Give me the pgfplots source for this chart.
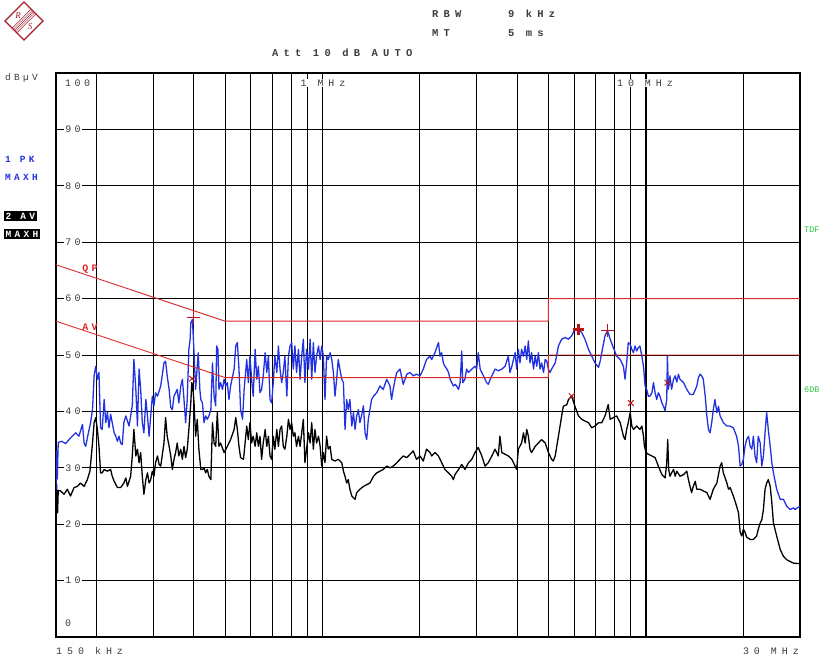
\documentclass[border=0pt]{standalone}
\usepackage{fontspec}
\setmainfont{Liberation Mono}
\newfontfamily\rs[LetterSpace=50]{Liberation Mono}
\newfontfamily\rt[LetterSpace=35]{Liberation Mono}
\usepackage{pgfplots}
\usepackage{pgfplotstable}
\pgfplotsset{compat=1.18}
\definecolor{pkblue}{RGB}{35,50,225}
\definecolor{limred}{RGB}{220,40,40}
\definecolor{mkred}{RGB}{185,20,20}
\definecolor{txtgray}{RGB}{60,60,60}
\definecolor{rsgreen}{RGB}{40,200,60}
\definecolor{logored}{RGB}{170,30,45}

% x = log10(frequency / MHz), y = level in dBuV
\pgfplotstableread[row sep=\\]{
lf dB\\
-0.824 26\\ -0.822 33\\ -0.820 28\\ -0.817 34.5\\ -0.807 34.7\\ -0.794 34.3\\ -0.779 35.3\\ -0.763 36.2\\
-0.753 35.6\\ -0.742 37.7\\ -0.737 34.4\\ -0.732 33.8\\ -0.727 35.3\\ -0.717 38\\ -0.711 40.3\\ -0.706 46.3\\
-0.701 48\\ -0.696 45.7\\ -0.691 46.9\\ -0.686 37.1\\ -0.681 36.8\\ -0.675 42.1\\ -0.670 38\\ -0.665 39.8\\
-0.660 37.1\\ -0.655 39.5\\ -0.650 38\\ -0.644 36.2\\ -0.639 35.6\\ -0.634 34.7\\ -0.629 35.6\\ -0.624 34.4\\
-0.619 34.1\\ -0.614 38\\ -0.608 39.2\\ -0.603 38.3\\ -0.598 37.4\\ -0.593 39.2\\ -0.588 41\\ -0.583 49.2\\
-0.577 43.9\\ -0.572 37.4\\ -0.567 47.5\\ -0.562 43.9\\ -0.557 38\\ -0.552 36.2\\ -0.546 42.1\\ -0.541 39.2\\
-0.536 35.6\\ -0.531 39.2\\ -0.526 42.7\\ -0.521 41\\ -0.516 43.3\\ -0.510 42.7\\ -0.500 44.5\\ -0.490 48.6\\
-0.485 48.9\\ -0.480 46.3\\ -0.474 43.9\\ -0.469 40.7\\ -0.464 40.3\\ -0.459 42.7\\ -0.454 43.3\\ -0.449 43.9\\
-0.444 41.5\\ -0.438 44.5\\ -0.433 45.7\\ -0.428 42.1\\ -0.423 38\\ -0.418 42.1\\ -0.413 51\\ -0.409 52.8\\
-0.407 55.7\\ -0.402 56.3\\ -0.399 52.8\\ -0.397 50.4\\ -0.392 43.9\\ -0.387 48\\ -0.384 50.4\\ -0.379 43.9\\
-0.376 42.1\\ -0.371 41.5\\ -0.366 38\\ -0.361 39.2\\ -0.356 38.6\\ -0.351 39.2\\ -0.345 40.3\\ -0.340 48.6\\
-0.335 42.7\\ -0.330 41\\ -0.327 51.6\\ -0.323 51\\ -0.320 43.9\\ -0.315 45.1\\ -0.309 43.9\\ -0.304 45.7\\
-0.299 44.5\\ -0.294 45.1\\ -0.289 42.1\\ -0.284 44.5\\ -0.273 47.5\\ -0.268 51.6\\ -0.263 52.2\\ -0.258 47.5\\
-0.253 40.3\\ -0.247 38.6\\ -0.242 43.9\\ -0.234 49.2\\ -0.229 45.1\\ -0.224 49.8\\ -0.219 45.7\\ -0.214 42.7\\
-0.208 51\\ -0.203 45.7\\ -0.198 48\\ -0.193 43.3\\ -0.188 43.9\\ -0.183 46.3\\ -0.177 50.4\\ -0.172 46.9\\
-0.167 49.8\\ -0.162 42.1\\ -0.157 41.5\\ -0.152 45.1\\ -0.147 49.8\\ -0.141 46.9\\ -0.136 51.6\\ -0.131 47.5\\
-0.126 45.1\\ -0.121 46.9\\ -0.116 49.8\\ -0.110 42.7\\ -0.105 49.8\\ -0.100 51.6\\ -0.095 52.2\\ -0.090 47.5\\
-0.085 51.6\\ -0.080 46.9\\ -0.074 51\\ -0.069 45.7\\ -0.064 49.8\\ -0.059 52.8\\ -0.054 45.1\\ -0.049 51\\
-0.043 47.5\\ -0.038 52.8\\ -0.033 45.7\\ -0.028 52.2\\ -0.023 46.9\\ -0.018 49.8\\ -0.012 51.6\\ -0.007 49.2\\
-0.002 51.6\\ 0.003 49.8\\ 0.008 42.1\\ 0.013 49.8\\ 0.018 49.2\\ 0.024 50.4\\ 0.029 49.2\\ 0.034 46.9\\
0.039 42.7\\ 0.044 45.7\\ 0.049 49.2\\ 0.054 47.5\\ 0.060 45.7\\ 0.065 45.1\\ 0.070 36.8\\ 0.075 42.1\\
0.080 40.3\\ 0.085 42.1\\ 0.091 37.4\\ 0.096 39.8\\ 0.101 36.8\\ 0.106 39.2\\ 0.111 40.3\\ 0.116 38\\
0.121 39.2\\ 0.127 41\\ 0.132 36.2\\ 0.137 35\\ 0.142 38.6\\ 0.147 40.3\\ 0.152 42.1\\ 0.158 42.7\\
0.168 43.3\\ 0.178 44.5\\ 0.188 43.9\\ 0.199 45.7\\ 0.209 44.5\\ 0.214 42.1\\ 0.219 43.9\\ 0.225 45.7\\
0.230 46.9\\ 0.240 47.5\\ 0.250 44.8\\ 0.261 46.6\\ 0.271 46.9\\ 0.281 46.3\\ 0.291 46.6\\ 0.302 46.3\\
0.312 47.5\\ 0.322 49.2\\ 0.333 49.8\\ 0.338 49.2\\ 0.348 50.4\\ 0.359 52.2\\ 0.364 49.8\\ 0.369 50.4\\
0.374 48.6\\ 0.379 48\\ 0.385 47.5\\ 0.390 46.9\\ 0.395 45.7\\ 0.400 45.1\\ 0.405 44.5\\ 0.410 44.8\\
0.415 44.5\\ 0.421 43.9\\ 0.426 45.1\\ 0.431 50.7\\ 0.434 45.1\\ 0.441 45.7\\ 0.446 47.5\\ 0.452 46.9\\
0.462 47.5\\ 0.472 48\\ 0.477 47.5\\ 0.482 50.4\\ 0.488 47.5\\ 0.493 46.9\\ 0.503 45.7\\ 0.508 45.1\\
0.513 44.8\\ 0.519 45.7\\ 0.524 46.3\\ 0.534 47.5\\ 0.544 47.2\\ 0.555 47.5\\ 0.565 48\\ 0.575 49.8\\
0.580 46.9\\ 0.586 48\\ 0.596 50.4\\ 0.601 47.5\\ 0.606 51\\ 0.611 48.6\\ 0.616 51\\ 0.622 49.8\\
0.627 51.6\\ 0.632 49.2\\ 0.637 52.5\\ 0.642 48.6\\ 0.647 50.4\\ 0.653 47.5\\ 0.658 49.8\\ 0.663 48\\
0.668 50.4\\ 0.673 47.5\\ 0.678 48.6\\ 0.684 46.9\\ 0.689 49.2\\ 0.694 48.9\\ 0.699 47.5\\ 0.704 46.9\\
0.709 47.5\\ 0.720 48.6\\ 0.730 51.6\\ 0.740 52.8\\ 0.751 53.1\\ 0.761 52.8\\ 0.771 53.4\\ 0.781 54.6\\
0.792 54.6\\ 0.802 54\\ 0.812 52.8\\ 0.823 51\\ 0.833 49.8\\ 0.843 48.6\\ 0.854 47.8\\ 0.859 48.9\\
0.864 50.4\\ 0.874 53.4\\ 0.882 54.3\\ 0.890 52.8\\ 0.910 49.8\\ 0.921 49.2\\ 0.931 48\\ 0.936 45.7\\
0.941 48.6\\ 0.946 52.2\\ 0.952 51.9\\ 0.957 51\\ 0.962 50.4\\ 0.967 51.6\\ 0.972 50.7\\ 0.977 51.3\\
0.982 51.6\\ 0.988 49.8\\ 0.993 48\\ 0.998 44.5\\ 1.003 43.9\\ 1.008 42.7\\ 1.013 42.7\\ 1.019 43.3\\
1.024 45.1\\ 1.029 43.3\\ 1.034 42.1\\ 1.039 43.3\\ 1.044 42.7\\ 1.050 41.5\\ 1.055 40.9\\ 1.060 40.1\\
1.065 42.1\\ 1.067 49.8\\ 1.070 43.9\\ 1.075 46.3\\ 1.080 43.9\\ 1.086 45.7\\ 1.091 46.3\\ 1.096 45.2\\
1.101 46.6\\ 1.106 45.7\\ 1.117 45.1\\ 1.127 43.9\\ 1.137 43\\ 1.147 43\\ 1.158 44.5\\ 1.163 46\\
1.168 46.6\\ 1.173 46.3\\ 1.178 45.7\\ 1.184 42.7\\ 1.189 39.2\\ 1.194 36.8\\ 1.199 36.2\\ 1.204 38\\
1.209 40.3\\ 1.214 42.1\\ 1.220 39.8\\ 1.225 40.9\\ 1.230 39.2\\ 1.240 38\\ 1.251 37.4\\ 1.261 37.4\\
1.271 37.1\\ 1.281 35.6\\ 1.287 33.8\\ 1.292 30.3\\ 1.297 30.6\\ 1.302 31.5\\ 1.307 33.8\\ 1.312 35\\
1.318 35.6\\ 1.323 33.8\\ 1.328 33.3\\ 1.333 35.6\\ 1.338 32.1\\ 1.343 30.9\\ 1.348 35.6\\ 1.354 34.4\\
1.359 30.3\\ 1.364 32.1\\ 1.369 36.2\\ 1.374 39.8\\ 1.379 36.8\\ 1.385 33.8\\ 1.390 30.9\\ 1.395 29.1\\
1.405 26.2\\ 1.416 24.4\\ 1.426 24.4\\ 1.436 23.2\\ 1.446 22.6\\ 1.457 22.9\\ 1.462 22.6\\ 1.477 23.2\\
}\pk

\pgfplotstableread[row sep=\\]{
lf dB\\
-0.824 17.5\\ -0.822 27\\ -0.819 22\\ -0.817 26\\ -0.810 25.9\\ -0.799 25.3\\ -0.789 26.2\\ -0.779 25\\
-0.768 26.5\\ -0.758 26.7\\ -0.748 27.3\\ -0.737 26.7\\ -0.727 27.9\\ -0.719 29.4\\ -0.711 34.4\\ -0.706 38\\
-0.701 38.9\\ -0.696 36.8\\ -0.691 33.8\\ -0.686 29.1\\ -0.681 29.1\\ -0.675 29.7\\ -0.665 29.4\\ -0.655 29.7\\
-0.650 28.5\\ -0.644 27.6\\ -0.634 26.5\\ -0.624 26.5\\ -0.614 27.3\\ -0.608 28.2\\ -0.603 26.7\\ -0.593 28.5\\
-0.588 32.1\\ -0.583 36.8\\ -0.577 32.1\\ -0.572 33.3\\ -0.567 30.9\\ -0.562 32.7\\ -0.557 28.5\\ -0.552 25.3\\
-0.546 27.9\\ -0.541 29.1\\ -0.536 27.3\\ -0.531 27.9\\ -0.526 29.4\\ -0.521 28.5\\ -0.516 30.9\\ -0.510 32.1\\
-0.505 30.6\\ -0.500 30.3\\ -0.490 34.4\\ -0.485 38.9\\ -0.480 35.6\\ -0.474 33.8\\ -0.469 32.1\\ -0.464 29.7\\
-0.459 31.5\\ -0.454 32.7\\ -0.449 34.4\\ -0.444 32.1\\ -0.438 33.3\\ -0.433 31.5\\ -0.428 33.8\\ -0.423 31.8\\
-0.418 33.3\\ -0.413 36.8\\ -0.407 41.5\\ -0.404 45.1\\ -0.401 44.5\\ -0.397 41.5\\ -0.392 35.6\\ -0.387 38.6\\
-0.382 33.3\\ -0.376 29.7\\ -0.371 29.7\\ -0.366 30\\ -0.361 29.1\\ -0.356 29.7\\ -0.351 28.5\\ -0.345 27.9\\
-0.340 38\\ -0.335 34.4\\ -0.330 33.8\\ -0.325 39.8\\ -0.320 33.8\\ -0.315 34.4\\ -0.304 32.7\\ -0.294 33.8\\
-0.284 35\\ -0.273 36.8\\ -0.268 38.9\\ -0.263 36.8\\ -0.258 33.8\\ -0.253 31.8\\ -0.244 31.5\\ -0.234 37.4\\
-0.229 35\\ -0.224 38\\ -0.219 34.4\\ -0.214 35.6\\ -0.208 33.8\\ -0.203 36.2\\ -0.198 33.8\\ -0.193 35.6\\
-0.188 31.5\\ -0.183 34.4\\ -0.177 36.8\\ -0.172 33.8\\ -0.167 35.6\\ -0.162 32.1\\ -0.157 31.5\\ -0.152 35.6\\
-0.147 33.3\\ -0.141 36.8\\ -0.136 33.8\\ -0.131 36.8\\ -0.126 37.4\\ -0.121 33.8\\ -0.116 33.3\\ -0.110 35.6\\
-0.105 38.6\\ -0.100 36.8\\ -0.095 38\\ -0.090 35.6\\ -0.085 36.2\\ -0.080 33.8\\ -0.074 35.6\\ -0.069 33.8\\
-0.064 36.2\\ -0.059 38.6\\ -0.054 30.9\\ -0.049 33.3\\ -0.043 36.2\\ -0.038 34.4\\ -0.033 38\\ -0.028 33.3\\
-0.023 36.8\\ -0.018 34.4\\ -0.012 35.6\\ -0.007 33.8\\ -0.002 30.3\\ 0.003 32.7\\ 0.008 30.9\\ 0.013 35.6\\
0.018 33.3\\ 0.024 33.8\\ 0.029 31.5\\ 0.039 31.2\\ 0.049 31.5\\ 0.060 30.9\\ 0.065 29.4\\ 0.070 28.5\\
0.075 27.3\\ 0.080 27.9\\ 0.085 26.2\\ 0.091 25\\ 0.096 24.7\\ 0.101 24.4\\ 0.106 25.6\\ 0.116 26.2\\
0.127 26.7\\ 0.137 27\\ 0.147 27.3\\ 0.158 28.5\\ 0.168 29.1\\ 0.178 29.4\\ 0.188 29.7\\ 0.199 30.3\\
0.209 30\\ 0.219 30.3\\ 0.230 30.9\\ 0.240 31.5\\ 0.250 32.1\\ 0.261 31.8\\ 0.271 32.4\\ 0.281 33\\
0.291 31.5\\ 0.302 32.1\\ 0.312 31.2\\ 0.322 33.3\\ 0.333 32.7\\ 0.338 32.1\\ 0.348 32.7\\ 0.359 32.1\\
0.369 30.9\\ 0.379 29.7\\ 0.390 29.1\\ 0.400 28.5\\ 0.405 27.9\\ 0.410 28.8\\ 0.421 29.7\\ 0.431 30.6\\
0.441 29.7\\ 0.452 30.9\\ 0.462 31.5\\ 0.472 32.7\\ 0.482 33.6\\ 0.493 32.1\\ 0.503 30.3\\ 0.513 30.9\\
0.524 32.1\\ 0.534 33.3\\ 0.544 32.1\\ 0.549 35.6\\ 0.555 32.7\\ 0.565 32.4\\ 0.575 32.1\\ 0.586 31.5\\
0.596 30.3\\ 0.601 29.7\\ 0.606 33.3\\ 0.616 34.4\\ 0.622 36.2\\ 0.627 34.4\\ 0.632 36.8\\ 0.637 35.6\\
0.642 33.3\\ 0.647 32.7\\ 0.658 33.8\\ 0.668 34.4\\ 0.678 35\\ 0.689 34.4\\ 0.699 32.7\\ 0.709 31.5\\
0.714 31.2\\ 0.720 32.1\\ 0.730 35.6\\ 0.740 39.2\\ 0.745 40.9\\ 0.756 41.2\\ 0.761 42.1\\ 0.771 42.7\\
0.781 40.9\\ 0.792 39.2\\ 0.802 38.6\\ 0.812 38.3\\ 0.823 38\\ 0.833 37.1\\ 0.843 37.4\\ 0.854 38\\
0.864 38\\ 0.874 39.2\\ 0.884 41.2\\ 0.890 38.6\\ 0.910 39.2\\ 0.921 38\\ 0.931 35.6\\ 0.936 35\\
0.941 36.8\\ 0.946 38\\ 0.952 39.8\\ 0.957 37.4\\ 0.962 36.8\\ 0.972 37.4\\ 0.982 36.8\\ 0.988 37.4\\
0.993 35.6\\ 0.996 33.8\\ 1.001 32.7\\ 1.008 32.4\\ 1.019 32.1\\ 1.029 31.8\\ 1.039 30.3\\ 1.050 28.8\\
1.060 28.2\\ 1.065 30.9\\ 1.068 35\\ 1.071 29.7\\ 1.075 28.5\\ 1.080 29.1\\ 1.086 29.7\\ 1.091 28.5\\
1.096 29.4\\ 1.106 28.5\\ 1.117 28.8\\ 1.127 29.4\\ 1.132 27.9\\ 1.137 26.7\\ 1.142 25.6\\ 1.147 26.7\\
1.153 27.6\\ 1.158 26.2\\ 1.168 26.2\\ 1.178 25.9\\ 1.189 25.6\\ 1.199 24.4\\ 1.209 26.2\\ 1.220 27.3\\
1.230 30.3\\ 1.235 30.9\\ 1.240 29.1\\ 1.251 27.3\\ 1.256 26.2\\ 1.261 26.5\\ 1.271 25\\ 1.281 23.2\\
1.287 22\\ 1.292 18.6\\ 1.297 17.9\\ 1.302 19.1\\ 1.307 18.6\\ 1.312 17.7\\ 1.323 17.3\\ 1.333 17.3\\
1.343 17.9\\ 1.348 19.1\\ 1.354 20.2\\ 1.359 20.8\\ 1.364 22.6\\ 1.369 26.2\\ 1.374 27.3\\ 1.379 27.9\\
1.385 26.7\\ 1.390 23.8\\ 1.395 20.2\\ 1.405 17.9\\ 1.416 15.5\\ 1.426 14.3\\ 1.436 13.7\\ 1.446 13.4\\
1.457 13.1\\ 1.477 13\\
}\av

\begin{document}
\begin{tikzpicture}
\useasboundingbox (0,0) rectangle (826bp,658bp);
\begin{axis}[
  at={(56bp,21bp)}, anchor=south west, scale only axis,
  width=744bp, height=564bp,
  xmin=-0.82391, xmax=1.47712, ymin=0, ymax=100,
  xtick={-0.69897,-0.52288,-0.39794,-0.30103,-0.22185,-0.15490,-0.09691,-0.04576,0,
         0.30103,0.47712,0.60206,0.69897,0.77815,0.84510,0.90309,0.95424,1,1.30103},
  ytick={10,20,...,90},
  xticklabels={}, yticklabels={},
  major tick length=0pt,
  grid=major,
  grid style={black, line width=0.9bp},
  axis line style={black, line width=1.9bp},
  clip=true,
]
\draw[black, line width=2.2bp] (axis cs:1,0) -- (axis cs:1,100);
\addplot[black, line width=1.3bp, line join=round] table[x=lf,y=dB]{\av};
\addplot[pkblue, line width=1.3bp, line join=round] table[x=lf,y=dB]{\pk};
\addplot[limred, line width=0.9bp] coordinates {(-0.82391,66) (-0.30103,56) (0.69897,56) (0.69897,60) (1.47712,60)};
\addplot[limred, line width=0.9bp] coordinates {(-0.82391,56) (-0.30103,46) (0.69897,46) (0.69897,50) (1.47712,50)};
\addplot[only marks, mark=+, mark size=6.5bp, mkred, line width=1bp] coordinates {(-0.400,56.6) (0.882,54.4)};
\addplot[only marks, mark=+, mark size=5.5bp, mkred, line width=3bp] coordinates {(0.792,54.6)};
\addplot[only marks, mark=x, mark size=4bp, mkred, line width=1bp] coordinates {(-0.403,45.8) (0.771,42.7) (0.954,41.5) (1.067,45.1)};
\end{axis}

\begin{scope}[x=1bp,y=1bp]
% y tick labels on the grid lines
\foreach \v in {10,20,...,90} {
  \node[fill=white, inner sep=1bp, text=txtgray, font=\rt\fontsize{10}{11}\selectfont] at (73,{21+5.64*\v}) {\v};
}
\node[inner sep=0, anchor=west, text=txtgray, font=\rt\fontsize{10}{11}\selectfont] at (65,575) {100};
\node[inner sep=0, anchor=west, text=txtgray, font=\rt\fontsize{10}{11}\selectfont] at (65,35) {0};
\node[fill=white, inner sep=1bp, text=txtgray, font=\rs\fontsize{10}{11}\selectfont] at (323,575) {1 MHz};
\node[fill=white, inner sep=1bp, text=txtgray, font=\rs\fontsize{10}{11}\selectfont] at (645,575) {10 MHz};
\node[inner sep=0, anchor=west, text=txtgray, font=\rs\fontsize{10}{11}\selectfont] at (56,7) {150 kHz};
\node[inner sep=0, anchor=east, text=txtgray, font=\rs\fontsize{10}{11}\selectfont] at (799,7) {30 MHz};

% header texts
\node[inner sep=0, anchor=west, text=txtgray, font=\rs\bfseries\fontsize{10.5}{11}\selectfont] at (432,644) {RBW};
\node[inner sep=0, anchor=west, text=txtgray, font=\rs\bfseries\fontsize{10.5}{11}\selectfont] at (508,644) {9 kHz};
\node[inner sep=0, anchor=west, text=txtgray, font=\rs\bfseries\fontsize{10.5}{11}\selectfont] at (432,625) {MT};
\node[inner sep=0, anchor=west, text=txtgray, font=\rs\bfseries\fontsize{10.5}{11}\selectfont] at (508,625) {5 ms};
\node[inner sep=0, anchor=west, text=txtgray, font=\rs\bfseries\fontsize{10.5}{11}\selectfont] at (272,605) {Att 10 dB AUTO};
\node[inner sep=0, anchor=west, text=txtgray, font=\rt\fontsize{9.5}{10}\selectfont] at (5,580) {dBµV};
\node[inner sep=0, anchor=west, text=pkblue, font=\rt\bfseries\fontsize{9.5}{10}\selectfont] at (5,499) {1 PK};
\node[inner sep=0, anchor=west, text=pkblue, font=\rt\bfseries\fontsize{9.5}{10}\selectfont] at (5,481) {MAXH};
\node[fill=black, text=white, inner sep=1.5bp, anchor=west, font=\rt\bfseries\fontsize{9.5}{10}\selectfont] at (4,442) {2 AV};
\node[fill=black, text=white, inner sep=1.5bp, anchor=west, font=\rt\bfseries\fontsize{9.5}{10}\selectfont] at (4,424) {MAXH};
\node[inner sep=0, anchor=west, text=rsgreen, font=\fontsize{8.5}{10}\selectfont] at (804,428) {TDF};
\node[inner sep=0, anchor=west, text=rsgreen, font=\fontsize{8.5}{10}\selectfont] at (804,268) {6DB};
\node[inner sep=0, text=limred, font=\rt\bfseries\fontsize{10}{10}\selectfont] at (90,389) {QP};
\node[inner sep=0, text=limred, font=\rt\bfseries\fontsize{10}{10}\selectfont] at (90,331) {AV};

% R&S logo
\begin{scope}[shift={(24,637)}, draw=logored]
  \draw[line width=1.3bp] (0,19) -- (19,0) -- (0,-19) -- (-19,0) -- cycle;
  \foreach \d in {-2.4,-1.2,0,1.2,2.4}
    \draw[line width=0.45bp] (9.5+\d,9.5-\d) -- (-9.5+\d,-9.5-\d);
  \node[text=logored, inner sep=0, font=\fontspec{Liberation Serif}\itshape\fontsize{9}{9}\selectfont] at (-6,5) {R};
  \node[text=logored, inner sep=0, font=\fontspec{Liberation Serif}\itshape\fontsize{9}{9}\selectfont] at (6,-6) {S};
\end{scope}
\end{scope}
\end{tikzpicture}
\end{document}
